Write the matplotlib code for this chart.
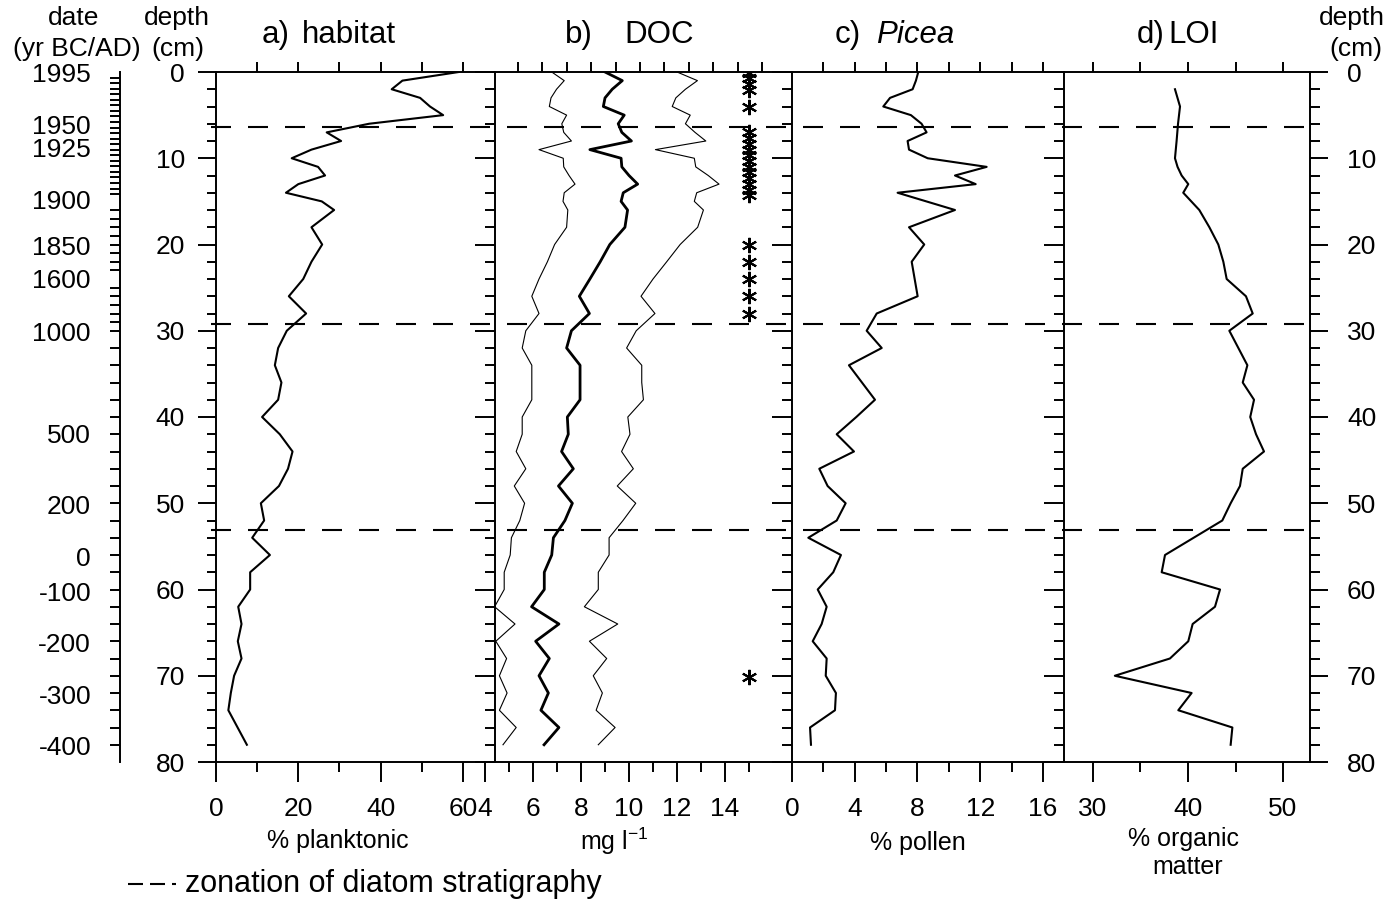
import numpy as np
import matplotlib.pyplot as plt
from matplotlib.lines import Line2D
from matplotlib.ticker import MultipleLocator

plt.rcParams['font.family'] = ['Liberation Sans', 'DejaVu Sans']
plt.rcParams['mathtext.default'] = 'regular'
plt.rcParams['lines.scale_dashes'] = False

# a) habitat: % planktonic diatoms
hab_depth = [0, 1, 2, 3, 4, 5, 6, 7, 8, 9, 10, 11, 12, 13, 14, 15, 16,
             18, 20, 22, 24, 26, 28, 30, 32, 34, 36, 38, 40, 42, 44, 46, 48,
             50, 52, 54, 56, 58, 60, 62, 64, 66, 68, 70, 72, 74, 78]
hab_pct = [59, 45.3, 42.7, 49.6, 52, 55.2, 37.2, 26.9, 30.4, 23.2, 18.4, 24.8, 26.5, 20.0, 17.0, 25.7, 28.7,
           23.2, 25.8, 23.2, 21.2, 17.7, 21.9, 17.2, 15.1, 14.3, 15.9, 15.1, 11.2, 15.5, 18.6, 17.5, 15.3,
           10.9, 11.7, 8.8, 13.1, 8.3, 8.3, 5.4, 6.2, 5.3, 6.2, 4.4, 3.6, 3.0, 7.5]

# b) DOC reconstruction (mg/l) with lower / upper bounds
doc_depth = [0, 1, 2, 3, 4, 5, 6, 7, 8, 9, 10, 11, 12, 13, 14, 15, 16,
             18, 20, 22, 24, 26, 28, 30, 32, 34, 36, 38, 40, 42, 44, 46, 48,
             50, 52, 54, 56, 58, 60, 62, 64, 66, 68, 70, 72, 74, 76, 78]
doc_mid = [9.0, 9.72, 9.3, 9.0, 8.93, 9.8, 9.55, 9.7, 10.1, 8.37, 9.67, 9.7, 10.0, 10.36, 9.76, 9.67, 9.94,
           9.83, 9.2, 8.8, 8.37, 7.93, 8.35, 7.6, 7.4, 7.96, 7.96, 7.96, 7.43, 7.47, 7.19, 7.68, 7.06,
           7.64, 7.33, 6.85, 6.78, 6.47, 6.47, 5.94, 7.08, 6.11, 6.68, 6.25, 6.64, 6.33, 7.08, 6.46]
doc_low = [6.78, 7.3, 6.98, 6.75, 6.68, 7.4, 7.2, 7.28, 7.6, 6.25, 7.26, 7.28, 7.5, 7.75, 7.3, 7.25, 7.45,
           7.4, 6.9, 6.6, 6.25, 5.95, 6.25, 5.7, 5.55, 5.95, 5.95, 5.95, 5.55, 5.55, 5.3, 5.7, 5.22,
           5.65, 5.45, 5.1, 5.05, 4.8, 4.8, 4.4, 5.25, 4.45, 4.9, 4.6, 4.92, 4.6, 5.3, 4.75]
doc_high = [12.0, 12.85, 12.35, 11.95, 11.8, 12.55, 12.35, 12.75, 13.2, 11.1, 12.72, 12.78, 13.3, 13.75, 12.82, 12.72, 13.1,
            12.86, 12.13, 11.57, 11.0, 10.5, 11.08, 10.3, 9.9, 10.53, 10.53, 10.6, 9.95, 10.04, 9.69, 10.18, 9.51,
            10.28, 9.75, 9.17, 9.17, 8.72, 8.72, 8.14, 9.53, 8.35, 9.07, 8.51, 8.89, 8.63, 9.42, 8.72]
star_depth = [0.1, 0.7, 1.4, 2.1, 4.0, 6.9, 7.6, 8.3, 9.0, 9.6, 10.3, 11.0, 11.6, 12.3, 13.0, 13.7, 14.3,
              20.0, 22.0, 24.0, 26.0, 28.1, 70.2]

# c) Picea pollen
picea_depth = [0, 1, 2, 3, 4, 5, 6, 7, 8, 9, 10, 11, 12, 13, 14, 16, 18, 20, 22, 26, 28, 30, 32, 34,
               38, 40, 42, 44, 46, 48, 50, 52, 54, 56, 58, 60, 62, 64, 66, 68, 70, 72, 74, 76, 78]
picea_pct = [8.05, 7.9, 7.69, 6.25, 5.82, 7.58, 8.26, 8.58, 7.37, 7.46, 8.65, 12.41, 10.39, 11.71, 6.73,
             10.39, 7.46, 8.43, 7.63, 8.01, 5.4, 4.76, 5.72, 3.63,
             5.29, 4.1, 2.85, 3.95, 1.74, 2.27, 3.42, 2.85, 1.04, 3.12, 2.63, 1.64, 2.21, 1.89, 1.32, 2.21,
             2.15, 2.8, 2.74, 1.15, 1.21]

# d) loss on ignition
loi_depth = [2, 4, 6, 8, 10, 11, 12, 13, 14, 16, 18, 20, 22, 24, 26, 28, 30, 32, 34, 36, 38, 40,
             42, 44, 46, 48, 50, 52, 56, 58, 60, 62, 64, 66, 68, 70, 72, 74, 76, 78]
loi_pct = [38.63, 39.16, 38.95, 38.8, 38.63, 38.9, 39.33, 40.03, 39.5, 41.19, 42.25, 43.19, 43.72, 44.07,
           46.1, 46.81, 44.35, 45.3, 46.25, 45.76, 46.95, 46.55, 47.16, 48.0, 45.76, 45.47, 44.49, 43.61,
           37.58, 37.23, 43.37, 42.84, 40.49, 40.03, 38.1, 32.3, 40.38, 38.98, 44.67, 44.49]

# diatom zone boundaries and the age scale
zone_depth = [6.4, 29.2, 53.1]
date_labels = ['1995', '1950', '1925', '1900', '1850', '1600', '1000', '500', '200', '0',
               '-100', '-200', '-300', '-400']
date_label_depth = [0, 6.1, 8.7, 14.8, 20.1, 24.0, 30.1, 41.9, 50.1, 56.2, 60.2, 66.2, 72.2, 78.1]
date_tick_depth = np.r_[np.linspace(0, 14.8, 24), np.arange(16, 30, 1), np.arange(30, 80, 2)]

W, H = 1386, 902
TOP, BOT = 72, 762          # pixel rows of 0 and 80 cm
LW = 1.4
FS = 19                     # tick labels and headers
XS = 18                     # axis titles under the panels
TS = 22.5                   # panel titles


def fx(x):
    return x / W


def fy(y):
    return 1 - y / H


def pt(px):
    return px * 0.72


fig = plt.figure(figsize=(W / 100, H / 100), dpi=100)
fig.patch.set_facecolor('white')
AH = (BOT - TOP) / H


def panel(x0, x1, xlim, major, minor, top_ticks):
    ax = fig.add_axes([fx(x0), fy(BOT), fx(x1 - x0), AH], facecolor='none')
    ax.set_xlim(*xlim)
    ax.set_ylim(80, 0)
    for s in ('left', 'right', 'top'):
        ax.spines[s].set_visible(False)
    ax.spines['bottom'].set_linewidth(LW)
    ax.set_yticks([])
    ax.set_xticks(major, [f'{m:g}' for m in major])
    ax.set_xticks(minor, minor=True)
    ax.tick_params(axis='x', which='major', direction='out', length=pt(20), width=LW,
                   labelsize=FS, pad=pt(15))
    ax.tick_params(axis='x', which='minor', direction='out', length=pt(10), width=LW)
    sec = ax.secondary_xaxis('top')
    sec.set_xticks(top_ticks, [''] * len(top_ticks))
    sec.tick_params(direction='out', length=pt(10), width=LW)
    sec.spines['top'].set_linewidth(LW)
    return ax


def depth_spine(x, side, direction, major_len, minor_len, labels=False, pad=0):
    w = 10
    left = x if side == 'left' else x - w
    a = fig.add_axes([fx(left), fy(BOT), fx(w), AH], facecolor='none')
    a.set_ylim(80, 0)
    a.set_xticks([])
    for s in a.spines:
        a.spines[s].set_visible(s == side)
    a.spines[side].set_linewidth(LW)
    a.yaxis.set_ticks_position(side)
    a.set_yticks(range(0, 81, 10))
    a.yaxis.set_minor_locator(MultipleLocator(2))
    a.tick_params(axis='y', which='major', direction=direction, length=pt(major_len), width=LW,
                  labelsize=FS, pad=pt(pad),
                  labelleft=labels and side == 'left', labelright=labels and side == 'right')
    a.tick_params(axis='y', which='minor', direction=direction, length=pt(minor_len), width=LW)
    return a


hab = panel(216, 495, (0, 67.8), [0, 20, 40, 60], [10, 30, 50], [10, 20, 30, 40, 50, 60])
doc = panel(485, 792, (4, 16.79), [4, 6, 8, 10, 12, 14], [5, 7, 9, 11, 13, 15],
            np.arange(5.375, 15.7, 1.017))
pic = panel(792, 1064, (0, 17.34), [0, 4, 8, 12, 16], [2, 6, 10, 14], [2, 4, 6, 8, 10, 12, 14, 16])
loi = panel(1064, 1310, (26.95, 52.84), [30, 40, 50], [35, 45], [30, 35, 40, 45, 50])

hab.plot(hab_pct, hab_depth, color='k', lw=1.5)
doc.plot(doc_low, doc_depth, color='k', lw=0.8)
doc.plot(doc_high, doc_depth, color='k', lw=0.8)
doc.plot(doc_mid, doc_depth, color='k', lw=2.0)
doc.plot([15] * len(star_depth), star_depth, ls='none', marker=(6, 2, 0), ms=11, mew=1.5, color='k')
pic.plot(picea_pct, picea_depth, color='k', lw=1.5)
loi.plot(loi_pct, loi_depth, color='k', lw=1.5)

# depth scales and panel dividers
depth_spine(216, 'left', 'out', 18, 9, labels=True, pad=13)
depth_spine(495, 'right', 'in', 20, 10)
depth_spine(792, 'right', 'in', 20, 10)
depth_spine(1064, 'right', 'in', 20, 10)
depth_spine(1310, 'right', 'out', 18, 10, labels=True, pad=19)

# age scale
dax = fig.add_axes([fx(120), fy(BOT), fx(10), AH], facecolor='none')
dax.set_ylim(80, 0)
dax.set_xticks([])
for s in dax.spines:
    dax.spines[s].set_visible(s == 'left')
dax.spines['left'].set_linewidth(LW)
dax.set_yticks(date_label_depth, date_labels)
dax.set_yticks(date_tick_depth, minor=True)
dax.tick_params(axis='y', which='major', length=0, pad=pt(29), labelsize=FS)
dax.tick_params(axis='y', which='minor', direction='out', length=pt(10), width=LW)

# zone boundaries across all panels
zax = fig.add_axes([fx(216), fy(BOT), fx(1310 - 216), AH], facecolor='none')
zax.axis('off')
zax.set_xlim(0, 1)
zax.set_ylim(80, 0)
for d in zone_depth:
    zax.plot([-0.005, 1.003], [d, d], color='k', lw=1.5, dashes=(pt(20), pt(17)), clip_on=False)


# headers and titles
def label(x, y, s, ha='center', size=FS, **kw):
    fig.text(fx(x), fy(y), s, ha=ha, va='center', fontsize=size, **kw)


label(74, 18, 'date')
label(77, 49, '(yr BC/AD)')
label(177, 18, 'depth')
label(178, 49, '(cm)')
label(1352, 18, 'depth')
label(1356, 49, '(cm)')

label(262, 35, 'a)', ha='left', size=TS)
label(302, 35, 'habitat', ha='left', size=TS)
label(565, 35, 'b)', ha='left', size=TS)
label(624, 35, 'DOC', ha='left', size=TS)
label(835, 35, 'c)', ha='left', size=TS)
label(876, 35, 'Picea', ha='left', size=TS, style='italic')
label(1137, 35, 'd)', ha='left', size=TS)
label(1168, 35, 'LOI', ha='left', size=TS)

label(338, 841, '% planktonic', size=XS)
label(614, 841, 'mg l$^{-1}$', size=XS)
label(918, 843, '% pollen', size=XS)
label(1184, 839, '% organic', size=XS)
label(1188, 867, 'matter', size=XS)

# legend for the zone lines
fig.add_artist(Line2D([fx(128), fx(176)], [fy(884), fy(884)], color='k', lw=1.5,
                      dashes=(pt(15), pt(7))))
label(185, 884, 'zonation of diatom stratigraphy', ha='left', size=22)

fig.savefig('out.png', dpi=100)
